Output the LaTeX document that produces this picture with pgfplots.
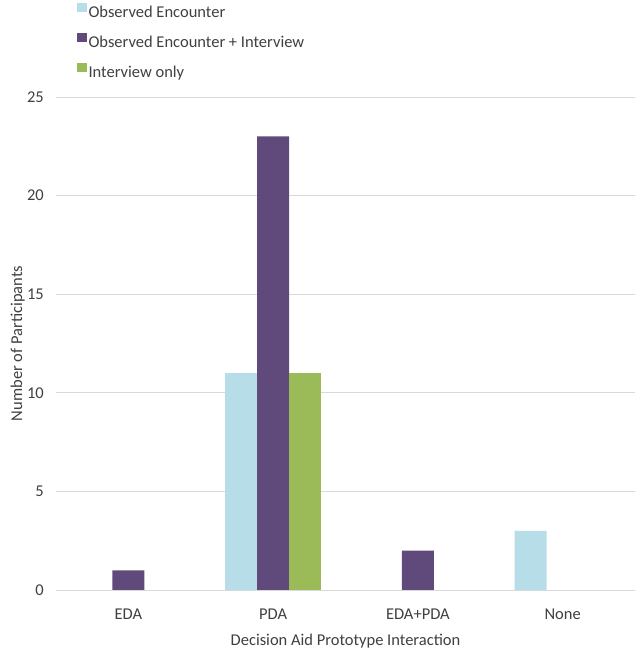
\documentclass[border=0pt]{standalone}
\usepackage{fontspec}
\setmainfont{Carlito}
\usepackage{pgfplots}
\pgfplotsset{compat=1.18}
\definecolor{cBlue}{HTML}{B7DEE8}
\definecolor{cPurple}{HTML}{604A7B}
\definecolor{cGreen}{HTML}{9BBB59}
\definecolor{cGrid}{HTML}{D9D9D9}
\definecolor{cText}{HTML}{404040}
\newcommand{\chartfont}{\fontsize{16.5bp}{20bp}\selectfont}
\begin{document}
\chartfont
\begin{tikzpicture}
\fill[white] (0,0) rectangle (639bp,655bp);
\useasboundingbox (0,0) rectangle (639bp,655bp);
\begin{axis}[
  at={(56bp,65bp)}, anchor=south west,
  scale only axis, width=579bp, height=493bp,
  ybar=0pt, bar width=32bp,
  xmin=-0.5, xmax=3.5, ymin=0, ymax=25,
  xtick={0,1,2,3}, xticklabels={EDA,PDA,EDA+PDA,None},
  ytick={0,5,10,15,20,25},
  ymajorgrids, grid style={cGrid, line width=0.9bp},
  axis line style={draw=none},
  major tick length=0pt,
  /pgf/number format/assume math mode=true,
  tick label style={font=\chartfont, text=cText},
  yticklabel style={anchor=east, inner sep=0pt, xshift=-12bp},
  xticklabel style={anchor=base, inner sep=0pt, yshift=-30bp},
  label style={font=\chartfont, text=cText},
  xlabel={Decision Aid Prototype Interaction},
  ylabel={Number of Participants},
  xlabel style={at={(axis description cs:0.5,0)}, anchor=base, inner sep=0pt, yshift=-55bp},
  ylabel style={at={(axis description cs:-0.0587,0.5)}, anchor=base, inner sep=0pt},
  legend style={at={(axis description cs:0.0363,1.1897)}, anchor=north west,
    draw=none, fill=none, inner sep=0pt, outer sep=0pt, row sep=11.5bp, column sep=2bp,
    font=\chartfont, text=cText,
    nodes={inner sep=0pt, text height=12bp, text depth=4bp}},
  legend cell align=left,
  legend image code/.code={\fill[#1] (0bp,1.5bp) rectangle (9.5bp,10.5bp);},
]
\addplot[fill=cBlue, draw=none] coordinates {(1,11) (3,3)};
\addplot[fill=cPurple, draw=none] coordinates {(0,1) (1,23) (2,2)};
\addplot[fill=cGreen, draw=none] coordinates {(1,11)};
\legend{Observed Encounter, Observed Encounter + Interview, Interview only}
\end{axis}
\end{tikzpicture}
\end{document}
